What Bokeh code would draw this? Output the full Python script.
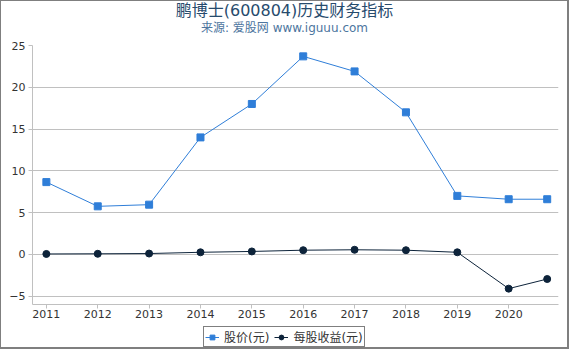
from bokeh.plotting import figure
from bokeh.models import FixedTicker, Legend, LegendItem, Range1d, Label
from bokeh.layouts import column
from bokeh.embed import file_html
from bokeh.resources import INLINE

title_text = "鹏博士(600804)历史财务指标"
subtitle_text = "来源: 爱股网 www.iguuu.com"

periods = [2011, 2012, 2013, 2014, 2015, 2016, 2017, 2018, 2019, 2020, 2020.75]
price = [8.65, 5.75, 5.95, 14.0, 18.0, 23.7, 21.9, 17.0, 7.0, 6.6, 6.6]
eps = [0.05, 0.07, 0.1, 0.25, 0.35, 0.5, 0.55, 0.5, 0.25, -4.1, -2.95]
x_ticks = [2011, 2012, 2013, 2014, 2015, 2016, 2017, 2018, 2019, 2020]
y_ticks = [-5, 0, 5, 10, 15, 20, 25]
series_names = ["股价(元)", "每股收益(元)"]

PRICE_COLOR = "#2f7ed8"
EPS_COLOR = "#0d233a"
FONT = "DejaVu Sans, Noto Sans CJK SC"
W = 566
BL, BR = 31, 9  # side borders shared by all strips (frames are aligned in the column)

# ---- title strip ----
pt = figure(width=W, height=36, output_backend="svg", toolbar_location=None,
            x_range=Range1d(BL, W - BR), y_range=Range1d(36, 0),
            x_axis_type=None, y_axis_type=None, min_border=0,
            min_border_left=BL, min_border_right=BR)
pt.outline_line_color = None
pt.grid.visible = False
pt.add_layout(Label(x=W / 2, y=9, text=title_text, text_align="center", text_baseline="middle",
                    text_font=FONT, text_font_size="16px", text_color="#274b6d"))
pt.add_layout(Label(x=W / 2, y=26.5, text=subtitle_text, text_align="center", text_baseline="middle",
                    text_font=FONT, text_font_size="12px", text_color="#4d759e"))

# ---- main chart ----
p = figure(width=W, height=286, output_backend="svg", toolbar_location=None,
           x_range=Range1d(2010.73, 2020.97), y_range=Range1d(-6, 25),
           min_border_left=BL, min_border_right=BR, min_border_top=8, min_border_bottom=19)
p.outline_line_color = None
p.xgrid.grid_line_color = None
p.ygrid.grid_line_color = "#c0c0c0"
p.ygrid.ticker = FixedTicker(ticks=y_ticks)
p.xaxis.ticker = FixedTicker(ticks=x_ticks)
p.yaxis.ticker = FixedTicker(ticks=y_ticks)
for ax in (p.xaxis[0], p.yaxis[0]):
    ax.axis_line_color = "#c0c0c0"
    ax.major_tick_line_color = "#c0c0c0"
    ax.minor_tick_line_color = None
    ax.major_tick_in = 0
    ax.major_tick_out = 4
    ax.major_label_text_font = FONT
    ax.major_label_text_font_size = "11px"
    ax.major_label_text_color = "#333333"
p.xaxis.major_label_standoff = 1
p.yaxis.major_label_standoff = 3

p.line(periods, price, line_color=PRICE_COLOR, line_width=1)
p.scatter(periods, price, marker="square", size=7, fill_color=PRICE_COLOR, line_color=PRICE_COLOR)
p.line(periods, eps, line_color=EPS_COLOR, line_width=1)
p.scatter(periods, eps, marker="circle", size=7, fill_color=EPS_COLOR, line_color=EPS_COLOR)

# ---- legend strip ----
pl = figure(width=W, height=24, output_backend="svg", toolbar_location=None,
            x_range=Range1d(0, 1), y_range=Range1d(0, 1),
            x_axis_type=None, y_axis_type=None, min_border=0,
            min_border_left=BL, min_border_right=BR)
pl.outline_line_color = None
pl.grid.visible = False
l1 = pl.line(periods, price, line_color=PRICE_COLOR, line_width=1)
m1 = pl.scatter(periods, price, marker="square", size=7, fill_color=PRICE_COLOR, line_color=PRICE_COLOR)
l2 = pl.line(periods, eps, line_color=EPS_COLOR, line_width=1)
m2 = pl.scatter(periods, eps, marker="circle", size=7, fill_color=EPS_COLOR, line_color=EPS_COLOR)
legend = Legend(items=[LegendItem(label=series_names[0], renderers=[l1, m1]),
                       LegendItem(label=series_names[1], renderers=[l2, m2])],
                orientation="horizontal", location=(202 - BL, 0),
                border_line_color="black", border_line_width=1,
                label_text_font=FONT, label_text_font_size="12px", label_text_color="#333333",
                label_text_line_height=0.9, label_height=12,
                glyph_width=14, glyph_height=12, label_standoff=5, spacing=5,
                padding=1, margin=0, background_fill_alpha=1)
pl.add_layout(legend, "center")

layout = column(pt, p, pl, spacing=0)
layout.styles = {"border-style": "solid", "border-color": "#7f7f7f", "border-width": "1px 2px 2px 1px"}

open("out.html", "w").write(file_html(layout, INLINE))
